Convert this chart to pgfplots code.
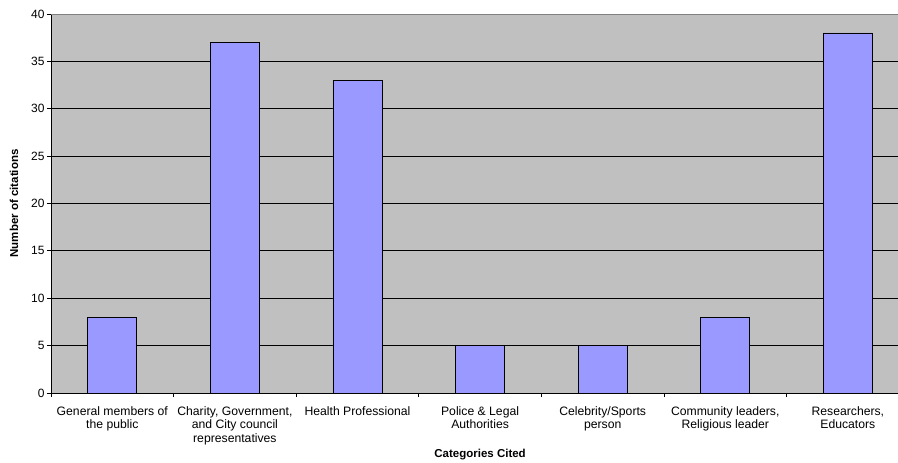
\documentclass[border=0pt]{standalone}
\usepackage{pgfplots}
\pgfplotsset{compat=1.18}
\usepackage{fontspec}
\setmainfont{Liberation Sans}
\definecolor{plotgray}{HTML}{C0C0C0}
\definecolor{barblue}{HTML}{9999FF}
\definecolor{bordergray}{HTML}{808080}
\begin{document}
\begin{tikzpicture}
\begin{axis}[
  at={(51pt,70pt)}, anchor=south west,
  scale only axis, width=847pt, height=379pt,
  xmin=-0.5, xmax=6.409, ymin=0, ymax=40,
  ybar,
  axis background/.style={fill=plotgray},
  axis lines*=left,
  axis line style={-, black, line width=0.8pt},
  ytick={0,5,...,40},
  ymajorgrids,
  major grid style={black, line width=0.8pt},
  xtick={0,...,6},
  xticklabels={General members of\\the public,
    {Charity, Government,\\and City council\\representatives},
    Health Professional,
    Police \& Legal\\Authorities,
    Celebrity/Sports\\person,
    {Community leaders,\\Religious leader},
    {Researchers,\\Educators}},
  minor xtick={-0.5,0.5,...,5.5},
  tick align=outside,
  major tick length=4pt, minor tick length=4pt,
  tick style={black, line width=0.8pt},
  major x tick style={draw=none},
  /pgf/number format/assume math mode=true,
  yticklabel style={font=\fontsize{12}{14}\selectfont, xshift=1pt},
  xticklabel style={align=center, font=\fontsize{12.2}{13.5}\selectfont, yshift=-6pt},
  xlabel={Categories Cited},
  xlabel style={at={(axis description cs:0.5066,-0.1636)}, anchor=center,
    font=\fontsize{11.5}{13}\selectfont\bfseries},
  ylabel={Number of citations},
  ylabel style={at={(axis description cs:-0.0437,0.5)}, anchor=center,
    font=\fontsize{11.5}{13}\selectfont\bfseries},
]
\addplot[ybar, bar width=0.4, fill=barblue, draw=black, line width=0.8pt]
  coordinates {(0,8) (1,37) (2,33) (3,5) (4,5) (5,8) (6,38)};
\draw[bordergray, line width=0.8pt] (rel axis cs:0,1) -- (rel axis cs:1,1);
\end{axis}
\pgfresetboundingbox
\path (0,0) rectangle (898pt,463pt);
\end{tikzpicture}
\end{document}
